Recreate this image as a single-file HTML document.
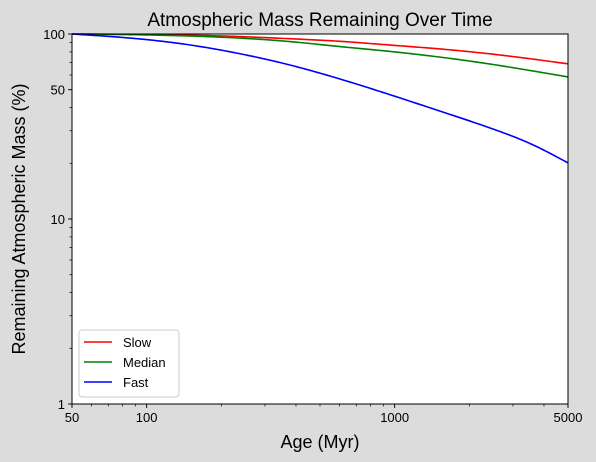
<!DOCTYPE html>
<html><head><meta charset="utf-8"><style>
body{margin:0;background:#dcdcdc;}
svg{display:block;font-family:"Liberation Sans","DejaVu Sans",sans-serif;}
</style></head><body>
<svg id="chart" width="596" height="462">
<rect width="596" height="462" fill="#dcdcdc"/>
<text x="320" y="26" font-size="19" text-anchor="middle">Atmospheric Mass Remaining Over Time</text>
<rect x="72" y="34" width="496" height="370" fill="#fff"/>
<g id="ticks"></g>
<g id="series"></g>
<rect x="72" y="34" width="496" height="370" fill="none" stroke="#000" stroke-width="1"/>
<text x="320" y="448" font-size="18" text-anchor="middle">Age (Myr)</text>
<text transform="translate(25,219) rotate(-90)" font-size="18" text-anchor="middle">Remaining Atmospheric Mass (%)</text>
<g>
<rect x="79" y="330" width="100" height="67" rx="3" fill="#fff" stroke="#ccc"/>
<g><line x1="84" x2="112" y1="342" y2="342" stroke="#ff0000" stroke-width="1.6"/><text x="123" y="347" font-size="13">Slow</text></g>
<g><line x1="84" x2="112" y1="362" y2="362" stroke="#008000" stroke-width="1.6"/><text x="123" y="367" font-size="13">Median</text></g>
<g><line x1="84" x2="112" y1="382" y2="382" stroke="#0000ff" stroke-width="1.6"/><text x="123" y="387" font-size="13">Fast</text></g>
</g>
</svg>
<script>
const ages = [50, 94, 150, 238, 378, 602, 873, 1524, 2660, 3513, 5000];
const slowValues = [100, 99.4, 98.5, 96.8, 94.3, 91.3, 88, 83, 77, 73.5, 69];
const medianValues = [100, 99, 97.5, 95, 91, 85.5, 81.5, 75, 67.5, 63.5, 58.6];
const fastValues = [100, 94, 87.2, 78.2, 68.0, 57.1, 48.9, 38.3, 29.7, 25.6, 20.1];
const xTickLabels = [50, 100, 1000, 5000];
const yTickLabels = [1, 10, 50, 100];

const L=72,R=568,T=34,B=404;
const xLo=Math.log10(50),xHi=Math.log10(5000),yLo=0,yHi=2;
function xs(v){return L+(Math.log10(v)-xLo)/(xHi-xLo)*(R-L);}
function ys(v){return B-(Math.log10(v)-yLo)/(yHi-yLo)*(B-T);}
const NS="http://www.w3.org/2000/svg";
const tg=document.getElementById('ticks'), sg=document.getElementById('series');
function mk(tag,attrs,parent){const e=document.createElementNS(NS,tag);for(const k in attrs)e.setAttribute(k,attrs[k]);parent.appendChild(e);return e;}
for(let d=10;d<=1000;d*=10)for(let m=1;m<10;m++){const v=d*m;if(v<50||v>5000)continue;
 const t=mk('line',{x1:xs(v),x2:xs(v),y1:B,y2:B+2.5,stroke:'#000','stroke-width':0.7},tg);
 
 }
for(let d=1;d<=10;d*=10)for(let m=1;m<10;m++){const v=d*m;
 const t=mk('line',{x1:L-2.5,x2:L,y1:ys(v),y2:ys(v),stroke:'#000','stroke-width':0.7},tg);
 
 }
xTickLabels.forEach(v=>{
 const t=mk('line',{x1:xs(v),x2:xs(v),y1:B,y2:B+4,stroke:'#000','stroke-width':0.9},tg);
 
 
 const tx=mk('text',{x:xs(v),y:B+18,'font-size':13,'text-anchor':'middle'},tg);tx.textContent=v;
 
 });
yTickLabels.forEach(v=>{
 const t=mk('line',{x1:L-4,x2:L,y1:ys(v),y2:ys(v),stroke:'#000','stroke-width':0.9},tg);
 
 
 const tx=mk('text',{x:L-7,y:ys(v)+5,'font-size':13,'text-anchor':'end'},tg);tx.textContent=v;
 
 });
function path(vals){
 const X=ages.map(xs),Y=vals.map(ys),n=X.length;
 const h=[];for(let i=0;i<n-1;i++)h[i]=X[i+1]-X[i];
 const a=new Array(n).fill(0),b=new Array(n).fill(1),c=new Array(n).fill(0),r=new Array(n).fill(0);
 for(let i=1;i<n-1;i++){a[i]=h[i-1];b[i]=2*(h[i-1]+h[i]);c[i]=h[i];r[i]=6*((Y[i+1]-Y[i])/h[i]-(Y[i]-Y[i-1])/h[i-1]);}
 for(let i=1;i<n;i++){const w=a[i]/b[i-1];b[i]-=w*c[i-1];r[i]-=w*r[i-1];}
 const M=new Array(n);M[n-1]=r[n-1]/b[n-1];
 for(let i=n-2;i>=0;i--)M[i]=(r[i]-c[i]*M[i+1])/b[i];
 let d='';
 for(let i=0;i<n-1;i++){
  for(let k=0;k<=20;k++){const t=X[i]+h[i]*k/20,A=(X[i+1]-t)/h[i],Bt=(t-X[i])/h[i];
   const y=A*Y[i]+Bt*Y[i+1]+((A*A*A-A)*M[i]+(Bt*Bt*Bt-Bt)*M[i+1])*h[i]*h[i]/6;
   d+=(d?' L':'M')+t.toFixed(2)+','+y.toFixed(2);}
 }
 return d;}
[[slowValues,'#ff0000','line-slow'],[medianValues,'#008000','line-median'],[fastValues,'#0000ff','line-fast']].forEach(([v,c,n])=>{
 const e=mk('path',{d:path(v),fill:'none',stroke:c,'stroke-width':1.6},sg);
 
 });
</script>
</body></html>
